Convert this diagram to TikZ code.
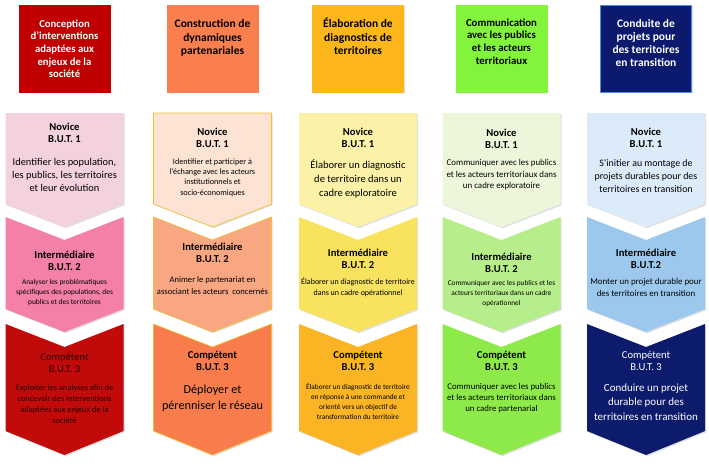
\documentclass[tikz,border=0pt]{standalone}
\usepackage{fontspec}
\setmainfont{Carlito}
\usetikzlibrary{shadows}

\definecolor{hdA}{HTML}{C00000}
\definecolor{novA}{HTML}{F3D2DE}
\definecolor{intA}{HTML}{F480A9}
\definecolor{comA}{HTML}{C30A0A}
\definecolor{hdB}{HTML}{FA7F4E}
\definecolor{novB}{HTML}{FCE3D4}
\definecolor{intB}{HTML}{F9A783}
\definecolor{comB}{HTML}{F97D4C}
\definecolor{lnB}{HTML}{F2C12E}
\definecolor{hdC}{HTML}{FDB71A}
\definecolor{novC}{HTML}{FBF2A7}
\definecolor{intC}{HTML}{F9E25E}
\definecolor{comC}{HTML}{FBB424}
\definecolor{hdD}{HTML}{83F43C}
\definecolor{novD}{HTML}{EBF6DA}
\definecolor{intD}{HTML}{B7EE8C}
\definecolor{comD}{HTML}{8DEA4A}
\definecolor{hdE}{HTML}{0B1A6C}
\definecolor{lnE}{HTML}{4A8FE7}
\definecolor{novE}{HTML}{DCEBF9}
\definecolor{intE}{HTML}{9CC8EE}
\definecolor{comE}{HTML}{0C1B6B}

\tikzstyle{box} = [line width=0.6pt, drop shadow={shadow xshift=1.2pt, shadow yshift=-1.2pt, opacity=0.25}]
\tikzstyle{head} = [anchor=base, align=center, inner sep=0pt, font=\fontsize{11.5}{13.8}\selectfont\bfseries]
\tikzstyle{level} = [anchor=base, align=center, inner sep=0pt, font=\fontsize{10.6}{12}\selectfont\bfseries]
\tikzstyle{txt} = [anchor=base, align=center, inner sep=0pt]

\begin{document}
\begin{tikzpicture}[x=1pt, y=-1pt]
        \useasboundingbox (0,0) rectangle (709,471);

        % header squares and the three levels of each column
        \foreach \cx/\hd/\hl/\na/\nb/\nc/\bl in {64.5/hdA/hdA/novA/intA/comA/none, 212.5/hdB/hdB/novB/intB/comB/lnB, 358/hdC/hdC/novC/intC/comC/none, 501.5/hdD/hdD/novD/intD/comD/none, 646/hdE/lnE/novE/intE/comE/none}{
            \filldraw[fill=\hd, draw=\hl, box] ({\cx-45.5},5) rectangle ({\cx+45.5},92);
            \filldraw[fill=\na, draw=\bl, box] ({\cx-59},113) -- ({\cx+59},113) -- ({\cx+59},204) -- (\cx,227) -- ({\cx-59},204) -- cycle;
            \filldraw[fill=\nb, draw=\bl, box] ({\cx-59},217) -- (\cx,240) -- ({\cx+59},217) -- ({\cx+59},309) -- (\cx,332) -- ({\cx-59},309) -- cycle;
            \filldraw[fill=\nc, draw=\bl, box] ({\cx-59},324) -- (\cx,347) -- ({\cx+59},324) -- ({\cx+59},431) -- (\cx,455) -- ({\cx-59},431) -- cycle;
        }

        % headers (base = last line)
        \node (head1) [head, white, font=\fontsize{10.7}{12.7}\selectfont\bfseries] at (64.5,77.8) {Conception\\d'interventions\\adaptées aux\\enjeux de la\\société};
        \node (head2) [head] at (212.5,54.8) {Construction de\\dynamiques\\partenariales};
        \node (head3) [head] at (358,54.8) {Élaboration de\\diagnostics de\\territoires};
        \node (head4) [head, font=\fontsize{10.8}{12.8}\selectfont\bfseries] at (501.5,64.4) {Communication\\avec les publics\\et les acteurs\\territoriaux};
        \node (head5) [head, white, font=\fontsize{11.5}{13.3}\selectfont\bfseries] at (646,66.9) {Conduite de\\projets pour\\des territoires\\en transition};

        % novice
        \node (nov1) [level] at (64.5,142) {Novice\\B.U.T. 1};
        \node (nov2) [level] at (212.5,147) {Novice\\B.U.T. 1};
        \node (nov3) [level] at (358,147) {Novice\\B.U.T. 1};
        \node (nov4) [level] at (501.5,148) {Novice\\B.U.T. 1};
        \node (nov5) [level] at (646,147) {Novice\\B.U.T. 1};
        \node (novtxt1) [txt, font=\fontsize{10.4}{13.3}\selectfont] at (64.5,191.6) {Identifier les population,\\les publics, les territoires\\et leur évolution};
        \node (novtxt2) [txt, font=\fontsize{8.2}{10.3}\selectfont] at (212.5,195.2) {Identifier et participer à\\l'échange avec les acteurs\\institutionnels et\\socio-économiques};
        \node (novtxt3) [txt, font=\fontsize{10.5}{14}\selectfont] at (358,196) {Élaborer un diagnostic\\de territoire dans un\\cadre exploratoire};
        \node (novtxt4) [txt, font=\fontsize{8.9}{11.7}\selectfont] at (501.5,188.9) {Communiquer avec les publics\\et les acteurs territoriaux dans\\un cadre exploratoire};
        \node (novtxt5) [txt, font=\fontsize{9.9}{13.3}\selectfont] at (646,192.6) {S'initier au montage de\\projets durables pour des\\territoires en transition};

        % intermediaire
        \node (int1) [level] at (64.5,270) {Intermédiaire\\B.U.T. 2};
        \node (int2) [level] at (212.5,262) {Intermédiaire\\B.U.T. 2};
        \node (int3) [level] at (358,268) {Intermédiaire\\B.U.T. 2};
        \node (int4) [level] at (501.5,272) {Intermédiaire\\B.U.T. 2};
        \node (int5) [level] at (646,268) {Intermédiaire\\B.U.T.2};
        \node (inttxt1) [txt, font=\fontsize{7.4}{10}\selectfont] at (64.5,304) {Analyser les problématiques\\spécifiques des populations, des\\publics et des territoires};
        \node (inttxt2) [txt, font=\fontsize{8.6}{11.7}\selectfont] at (212.5,294.1) {Animer le partenariat en\\associant les acteurs\ \ concernés};
        \node (inttxt3) [txt, font=\fontsize{8}{11.5}\selectfont] at (358,295.7) {Élaborer un diagnostic de territoire\\dans un cadre opérationnel};
        \node (inttxt4) [txt, font=\fontsize{7.3}{10}\selectfont] at (501.5,305) {Communiquer avec les publics et les\\acteurs territoriaux dans un cadre\\opérationnel};
        \node (inttxt5) [txt, font=\fontsize{8.9}{11.7}\selectfont] at (646,296.2) {Monter un projet durable pour\\des territoires en transition};

        % competent
        \node (comp1) [level, black!85!red, font=\fontsize{10.6}{12}\selectfont] at (64.5,372) {Compétent\\B.U.T. 3};
        \node (comp2) [level] at (212.5,370) {Compétent\\B.U.T. 3};
        \node (comp3) [level] at (358,370) {Compétent\\B.U.T. 3};
        \node (comp4) [level] at (501.5,370) {Compétent\\B.U.T. 3};
        \node (comp5) [level, white, font=\fontsize{10.6}{12}\selectfont] at (646,370) {Compétent\\B.U.T. 3};
        \node (comptxt1) [txt, black!85!red, font=\fontsize{8.4}{11}\selectfont] at (64.5,423.4) {Exploiter les analyses afin de\\concevoir des interventions\\adaptées aux enjeux de la\\société};
        \node (comptxt2) [txt, font=\fontsize{12.2}{16.5}\selectfont] at (212.5,409.9) {Déployer et\\pérenniser le réseau};
        \node (comptxt3) [txt, font=\fontsize{7.3}{10}\selectfont] at (358,419) {Élaborer un diagnostic de territoire\\en réponse à une commande et\\orienté vers un objectif de\\transformation du territoire};
        \node (comptxt4) [txt, font=\fontsize{8.8}{11.2}\selectfont] at (501.5,411.9) {Communiquer avec les publics\\et les acteurs territoriaux dans\\un cadre partenarial};
        \node (comptxt5) [txt, white, font=\fontsize{11}{14.7}\selectfont] at (646,420.4) {Conduire un projet\\durable pour des\\territoires en transition};

    \end{tikzpicture}
\end{document}
